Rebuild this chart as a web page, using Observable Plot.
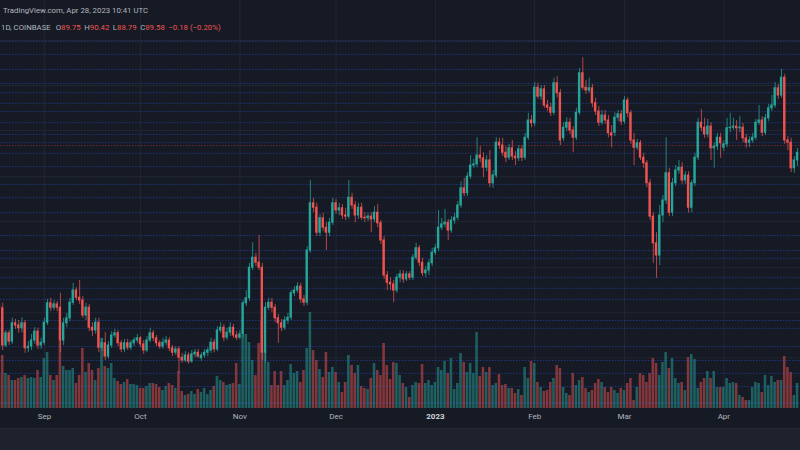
<!DOCTYPE html>
<html><head><meta charset="utf-8">
<script src="https://cdn.jsdelivr.net/npm/d3@7"></script>
<script src="https://cdn.jsdelivr.net/npm/@observablehq/plot@0.6"></script>
<style>
html,body{margin:0;padding:0;background:#161a25;}
#wrap{position:relative;width:800px;height:450px;overflow:hidden;background:#161a25;font-family:Roboto,"Noto Sans",sans-serif;}
.layer{position:absolute;left:0;top:0;}
#foot{position:absolute;left:0;top:428px;width:800px;height:22px;background:#1e222d;border-top:1px solid #262a36;box-sizing:border-box;}
.hdr{position:absolute;white-space:nowrap;font-size:7.8px;line-height:9px;color:#b2b5be;}
.r{color:#ef5350;}
.g{margin-left:3.5px;}
</style></head><body><div id="wrap"></div>
<script>
// ---- data (LTC/USD daily, Coinbase) ----
const startDay = "2022-08-18";
const open = [58.6,58.1,51.4,53.6,52.1,55.4,55.0,54.5,55.4,50.9,
51.2,52.3,53.9,51.4,51.9,55.5,59.0,58.2,58.8,58.2,
52.3,55.4,56.3,59.1,61.3,60.0,59.5,56.8,58.2,54.6,
54.1,55.5,51.0,51.8,49.4,51.4,53.2,53.6,51.8,50.7,
51.8,51.0,51.8,52.3,52.7,51.6,50.5,52.3,53.6,52.7,
51.8,51.2,51.9,52.3,50.9,50.1,50.7,49.2,48.7,49.6,
48.5,49.8,50.1,49.1,49.6,50.1,50.5,51.9,50.7,54.1,
54.6,52.8,53.7,54.6,53.2,52.8,53.4,59.0,59.9,65.4,
67.2,66.3,65.4,50.1,58.2,59.1,58.2,56.3,55.4,54.6,
55.9,56.4,60.8,61.3,62.0,59.7,59.1,68.5,77.0,76.2,
71.7,74.3,72.6,71.7,73.5,77.0,75.7,76.1,74.8,74.6,
78.0,76.6,74.8,76.2,74.4,74.3,74.6,74.1,75.3,73.4,
70.3,64.0,62.7,62.4,61.3,63.6,64.2,63.3,64.2,63.6,
67.2,68.9,66.3,64.4,64.9,66.2,68.1,68.9,72.6,73.2,
73.5,72.1,73.9,74.4,76.6,79.7,78.8,81.8,83.8,84.0,
85.6,85.1,83.4,84.7,80.6,82.0,87.9,87.4,86.1,85.2,
86.9,85.4,85.1,86.7,85.2,88.8,91.9,91.4,97.8,96.2,
97.5,94.6,94.2,93.3,98.6,96.8,88.7,90.6,91.5,90.1,
88.8,93.3,100.4,97.8,97.3,97.7,95.0,93.5,91.5,92.8,
91.9,89.6,89.7,92.4,93.0,91.7,95.5,93.2,88.3,87.0,
87.8,85.2,84.2,80.6,74.6,69.8,67.6,74.8,77.5,82.4,
75.3,80.6,82.9,83.4,81.1,82.0,76.2,80.6,85.2,91.5,
90.6,89.4,90.8,86.9,87.2,88.8,87.0,87.6,90.5,90.6,
90.8,90.5,90.6,88.7,87.9,88.3,88.8,91.5,91.9,89.7,
92.3,94.1,94.6,97.7,96.4,99.6,88.3,87.9,83.3,84.7];
const close = [58.2,51.4,53.6,52.1,55.4,55.0,54.5,55.4,50.9,51.2,
52.3,53.9,51.4,51.9,55.5,59.0,58.2,58.8,58.2,52.3,
55.4,56.3,59.1,61.3,60.0,59.5,56.8,58.2,54.6,54.1,
55.5,51.0,51.8,49.4,51.4,53.2,53.6,51.8,50.7,51.8,
51.0,51.8,52.3,52.7,51.6,50.5,52.3,53.6,52.7,51.8,
51.2,51.9,52.3,50.9,50.1,50.7,49.2,48.7,49.6,48.5,
49.8,50.1,49.4,49.6,50.1,50.5,51.9,50.7,54.1,54.6,
52.8,53.7,54.6,53.2,52.8,53.4,59.0,59.9,65.4,67.2,
66.3,65.4,50.1,58.2,59.1,58.2,56.3,55.4,54.6,55.9,
56.4,60.8,61.3,62.0,59.7,59.1,68.5,77.0,76.2,71.7,
74.3,72.6,71.7,73.5,77.0,75.7,76.1,74.8,74.6,78.0,
76.6,74.8,76.2,74.4,74.3,74.6,74.1,75.3,73.4,70.3,
64.0,62.7,62.4,61.3,63.6,64.2,63.3,64.2,63.6,67.2,
68.9,66.3,64.4,64.9,66.2,68.1,68.9,72.6,73.2,73.5,
72.1,73.9,74.4,76.6,79.7,78.8,81.8,83.8,84.0,85.6,
85.1,83.4,84.7,80.6,82.0,87.9,87.4,86.1,85.2,86.9,
85.4,85.1,86.7,85.2,88.8,91.9,91.4,97.8,96.2,97.5,
94.6,94.2,93.3,98.6,96.8,88.3,90.6,91.5,90.1,88.8,
93.3,100.4,97.8,97.3,97.7,95.0,93.5,91.5,92.8,91.9,
89.6,89.2,92.4,93.0,91.7,95.5,93.2,88.3,87.0,87.8,
85.2,84.2,80.6,74.6,69.8,67.6,74.8,77.5,82.4,75.3,
80.6,82.9,83.4,81.1,82.0,76.2,80.6,85.2,91.5,90.6,
89.4,90.8,86.9,87.2,88.8,87.8,87.6,90.5,90.6,90.8,
90.5,90.6,88.7,87.9,88.3,88.8,91.5,91.9,89.7,92.3,
94.1,94.6,97.7,96.4,99.6,88.3,87.9,83.3,84.7,86.1];
const high = [59.5,59.0,54.1,54.1,56.3,56.1,55.9,56.4,55.9,52.1,
53.4,54.6,54.5,52.7,56.3,59.7,59.9,59.5,59.3,60.8,
56.3,57.2,59.9,62.6,61.8,63.1,60.2,59.0,58.8,55.5,
56.3,56.3,52.7,53.7,52.1,53.9,54.3,54.1,52.3,52.5,
52.5,52.3,52.8,53.4,53.0,52.3,53.0,54.5,54.1,53.2,
52.3,52.7,53.0,52.8,51.4,51.2,51.2,50.0,50.3,50.1,
50.5,50.7,50.7,50.1,50.7,51.0,52.7,52.5,54.8,55.5,
55.2,54.5,55.5,55.2,53.9,54.1,59.5,61.3,66.2,69.9,
68.0,71.2,66.2,59.1,59.9,59.9,58.8,57.0,56.1,56.6,
57.2,61.3,62.0,62.7,62.6,60.4,69.2,81.1,77.9,77.0,
75.0,75.2,73.5,74.3,77.9,77.7,77.0,76.8,76.1,81.1,
78.8,77.3,77.0,77.0,75.3,75.2,75.3,76.4,76.8,73.9,
71.0,64.7,63.6,63.1,64.2,64.9,64.9,64.7,64.7,67.8,
69.8,69.4,67.1,65.6,66.9,68.9,69.6,75.7,74.3,75.9,
74.1,74.6,75.2,77.3,80.9,81.5,82.5,85.6,84.9,88.8,
87.2,86.1,85.6,86.5,82.9,88.8,88.7,88.7,87.2,87.6,
88.3,86.3,87.4,87.4,89.6,93.2,92.8,98.7,98.6,98.2,
98.2,95.5,95.0,99.5,99.8,97.5,91.5,92.4,92.3,90.8,
94.1,101.3,103.2,99.1,99.5,98.4,95.9,94.4,93.7,93.7,
92.8,91.0,93.3,93.7,93.7,96.2,96.0,93.7,89.6,88.5,
88.3,86.0,84.7,81.3,75.3,71.7,76.6,78.4,88.8,83.3,
81.5,83.8,84.7,84.3,82.7,82.7,81.1,86.0,92.3,93.9,
92.3,92.1,91.5,87.9,89.6,89.6,88.3,92.3,93.2,92.3,
91.9,92.6,91.4,89.4,89.0,89.6,92.1,94.6,92.6,93.0,
94.8,96.4,98.7,98.4,101.1,100.2,89.0,88.7,85.4,86.9];
const low = [57.9,50.5,51.0,51.4,51.6,54.3,53.6,53.7,50.0,50.1,
50.5,51.6,50.7,50.7,51.4,55.0,57.5,57.7,57.5,50.1,
51.4,54.6,55.7,58.6,59.5,58.8,56.3,55.9,53.9,53.0,
53.4,50.1,50.3,48.7,48.9,50.9,52.7,51.2,50.1,50.1,
50.5,50.5,51.2,51.8,51.0,49.8,50.1,51.9,52.1,51.2,
50.7,50.7,51.4,50.3,49.4,49.6,46.5,48.2,48.3,48.0,
48.2,49.2,49.1,48.5,49.1,49.4,50.0,50.1,50.3,53.6,
52.1,52.3,53.0,52.7,52.3,52.5,52.8,58.4,59.3,64.9,
65.6,64.9,48.7,48.3,57.7,57.3,55.5,51.8,53.9,54.1,
55.2,55.9,60.2,60.8,59.0,58.4,58.6,68.0,75.3,71.0,
71.0,71.9,68.5,71.0,73.0,75.0,74.8,74.1,73.9,74.1,
75.9,73.5,74.1,73.9,73.5,73.7,71.7,73.5,72.6,69.6,
63.3,61.3,61.3,59.1,60.8,62.7,62.6,62.9,63.1,63.1,
66.7,65.6,63.8,63.6,64.0,65.6,67.6,68.3,72.1,72.6,
70.3,71.6,73.2,73.9,76.1,78.2,78.2,81.3,83.3,83.4,
84.3,81.6,82.7,79.8,79.7,81.5,86.7,85.4,84.3,84.7,
84.7,83.8,84.5,84.5,84.7,88.3,90.6,90.8,95.7,95.5,
94.1,93.5,92.6,92.8,96.0,87.4,88.1,89.9,89.4,86.1,
88.3,92.8,97.3,96.6,96.8,94.2,92.8,90.8,91.0,91.2,
88.8,87.0,89.0,91.7,91.0,91.2,92.4,87.6,83.8,86.5,
84.7,83.3,79.8,73.9,66.2,63.5,65.8,73.5,76.8,74.6,
74.6,80.0,82.2,80.4,80.4,75.2,75.3,80.0,84.7,89.9,
88.7,88.8,84.7,83.3,86.5,85.1,86.3,87.0,89.7,90.1,
88.3,89.7,87.9,86.9,87.0,87.8,88.3,91.0,89.0,89.2,
91.7,93.5,94.1,95.7,95.9,87.6,86.5,82.5,82.4,83.6];
// volume, thousand LTC
const volume = [330,530,350,330,280,280,300,310,330,300,
310,300,380,310,500,560,330,280,330,680,
420,380,380,400,250,330,600,360,450,380,
280,400,700,420,400,450,300,270,240,260,
290,240,240,230,200,200,220,250,250,240,
210,180,220,250,230,200,370,170,130,140,
170,140,190,160,200,140,180,220,320,280,
260,230,240,250,450,240,730,740,660,480,
330,650,880,580,460,230,370,230,370,230,
280,440,350,370,260,380,600,960,580,480,
390,310,560,360,410,360,260,160,260,530,
430,350,430,220,200,190,300,450,380,330,
650,430,290,460,450,330,250,210,110,230,
260,250,440,250,280,230,260,410,380,470,
350,500,190,250,550,460,360,450,350,760,
320,410,360,410,230,250,340,230,240,200,
200,150,190,130,410,300,470,450,260,210,
170,180,260,300,430,400,210,150,130,350,
230,280,310,200,160,180,250,290,260,210,
160,210,180,150,200,180,250,300,80,210,
350,330,260,350,500,450,330,460,560,400,
500,300,250,260,180,510,540,490,200,260,
300,370,300,370,210,210,210,300,250,260,
250,130,110,80,80,210,260,250,160,330,
230,320,260,280,280,520,410,360,130,250];
// drawn horizontal levels (price)
const levelPrices = [106.1,103.8,101.1,98.6,96.9,95.0,93.5,91.5,89.4,87.9,86.0,83.6,80.4,78.0,75.3,71.2,68.5,67.1,63.6,61.7,59.7,55.9,54.5,51.2,48.7,46.4,44.0,41.0];
const alertPrices = [87.4];
const gridPrices = [106.3,98.2,90.1,81.8,73.7,65.4,57.3,49.2,41.1];
const monthStarts = ["2022-09-01","2022-10-01","2022-11-01","2022-12-01","2023-01-01","2023-02-01","2023-03-01","2023-04-01"];
const monthLabels = ["Sep","Oct","Nov","Dec","2023","Feb","Mar","Apr"];

// ---- build ----
const DAY = 86400000;
const t0 = Date.parse(startDay + "T00:00:00Z");
const UP = "#26a69a", DOWN = "#ef5350";
const bars = close.map((c, i) => ({
  date: new Date(t0 + i * DAY), open: open[i], high: high[i], low: low[i], close: c,
  volume: volume[i], color: c >= open[i] ? UP : DOWN
}));
const months = monthStarts.map((s, i) => ({date: new Date(s + "T00:00:00Z"), label: monthLabels[i], year: monthLabels[i] === "2023"}));

const W = 800, H = 428;
const xOpt = {type: "utc", domain: [new Date(t0 + 0.312 * DAY), new Date(t0 + 249.92 * DAY)], range: [0, W], axis: null};
const yPrice = {type: "linear", domain: [113.5, 36.46], range: [0, H], axis: null};
const half = 0.37 * DAY;

const wrap = document.getElementById("wrap");

const layer1 = Plot.plot({
  width: W, height: H, marginTop: 0, marginLeft: 0, marginRight: 0, marginBottom: 20,
  x: xOpt, y: yPrice,
  style: {background: "#161a25", fontFamily: "Roboto, 'Noto Sans', sans-serif"},
  marks: [
    Plot.ruleY(gridPrices, {y: d => d, stroke: "#222633", strokeWidth: 1}),
    Plot.ruleX(months, {x: "date", stroke: "#222633", strokeWidth: 1}),
    Plot.text(months.filter(d => !d.year), {x: "date", text: "label", frameAnchor: "bottom", dy: 10, fill: "#b2b5be", fontSize: 8}),
    Plot.text(months.filter(d => d.year), {x: "date", text: "label", frameAnchor: "bottom", dy: 10, fill: "#d1d4dc", fontSize: 8, fontWeight: "bold"})
  ]
});

const layer2 = Plot.plot({
  width: W, height: H, margin: 0,
  x: xOpt,
  y: {type: "linear", domain: [0, 4080], range: [408, 0], axis: null},
  color: {type: "identity"},
  style: {background: "transparent"},
  marks: [
    Plot.rect(bars, {x1: d => new Date(+d.date - 0.4 * DAY), x2: d => new Date(+d.date + 0.4 * DAY), y1: 0, y2: "volume", fill: "color", fillOpacity: 0.5})
  ]
});

const layer3 = Plot.plot({
  width: W, height: H, margin: 0,
  x: xOpt, y: yPrice,
  color: {type: "identity"},
  style: {background: "transparent"},
  marks: [
    Plot.ruleY(levelPrices, {y: d => d, stroke: "#2962ff", strokeOpacity: 0.4, strokeDasharray: "1.5,1.5"}),
    Plot.ruleY(alertPrices, {y: d => d, stroke: "#f23645", strokeOpacity: 0.4, strokeDasharray: "1.5,1.5"}),
    Plot.ruleX(bars, {x: "date", y1: "low", y2: "high", stroke: "color", strokeWidth: 1, strokeOpacity: 0.75}),
    Plot.rect(bars, {x1: d => new Date(+d.date - half), x2: d => new Date(+d.date + half), y1: "open", y2: "close", fill: "color", insetTop: -0.5, insetBottom: -0.5})
  ]
});

for (const l of [layer1, layer2, layer3]) { l.classList.add("layer"); l.style.position = "absolute"; l.style.left = "0"; l.style.top = "0"; wrap.appendChild(l); }

const foot = document.createElement("div"); foot.id = "foot"; wrap.appendChild(foot);

const h = (html, style) => { const d = document.createElement("div"); d.className = "hdr"; d.setAttribute("style", style); d.innerHTML = html; wrap.appendChild(d); };
h("TradingView.com, Apr 28, 2023 10:41 UTC", "top:5.5px;left:3px;");
h('1D, COINBASE<span class="g" style="margin-left:5px">O</span><span class="r">89.75</span><span class="g">H</span><span class="r">90.42</span><span class="g">L</span><span class="r">88.79</span><span class="g">C</span><span class="r">89.58</span><span class="r" style="margin-left:3.5px">−0.18 (−0.20%)</span>', "top:22.5px;left:1px;");
</script>
</body></html>
